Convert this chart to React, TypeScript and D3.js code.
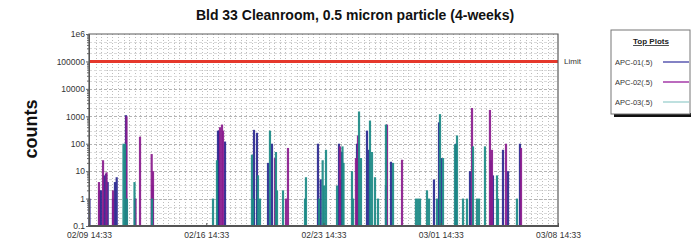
import React, { useEffect, useRef } from "react";
import * as d3 from "d3";

// hours after 02/09 14:33 and particle counts per series
const apc01Hours = [0.7, 15, 17.2, 21.5, 24.4, 26.8, 34.4, 37.2, 39.7, 53, 65.9, 91, 184.8, 186.3, 194.9, 236.4, 240.7, 256.5, 262.2, 328.1, 332, 358.2, 361, 362.5, 384, 398.3, 401.2, 425.5, 432.7, 494.3, 501.5, 504.4, 525.8, 545.9, 576, 578.8, 593.2, 600.4, 617.5];
const apc01Counts = [1, 2, 2, 7, 8, 4, 1, 4, 6, 1100, 1, 3, 300, 300, 120, 320, 250, 20, 100, 100, 5, 100, 5, 50, 100, 300, 60, 3, 22, 5, 600, 30, 100, 10, 25, 7, 60, 10, 100];

const apc02Hours = [14.3, 20.1, 25.1, 34.4, 53.7, 66.6, 73.1, 89.8, 91.7, 187.7, 190.6, 192, 266.5, 282.3, 285.1, 359.6, 382.5, 385.4, 427, 448.5, 548.8, 574.5, 577.4, 597.5, 619];
const apc02Counts = [4, 25, 9, 2, 1000, 1, 180, 42, 10, 400, 500, 300, 30, 1, 70, 80, 30, 200, 500, 26, 2000, 1700, 60, 100, 70];

const apc03Hours = [49.4, 51.6, 54.4, 65.2, 90.3, 177.7, 183.4, 233.5, 235, 242.1, 245, 259.3, 267.9, 269.4, 278, 309.5, 310.9, 329.6, 334.8, 336.7, 339.6, 355.4, 363.2, 364.7, 376.8, 378.3, 386.9, 389.7, 402.6, 405.5, 409.8, 414.1, 425.5, 435.6, 468.5, 471.4, 474.3, 484.3, 487.2, 498.6, 502.9, 507.2, 524.4, 527.3, 535.9, 541.6, 550.2, 555.9, 558.8, 567.4, 584.6, 586, 613.2];
const apc03Counts = [100, 100, 1, 4, 1, 1, 25, 40, 1, 7, 1, 300, 50, 2, 2, 1, 6, 1, 25, 3, 60, 3, 80, 20, 10, 1, 1500, 30, 700, 50, 6, 1, 500, 20, 1, 1, 1, 2, 1, 1, 1200, 30, 95, 200, 1, 1, 80, 1, 1, 80, 7, 1, 1];

const seriesNames = ["APC-01(.5)", "APC-02(.5)", "APC-03(.5)"];
const seriesColors = ["#2a2890", "#8a1c8e", "#1c8a86"];
const legendColors = ["#5a58b0", "#a43aa8", "#a9d6d4"];
const limitValue = 100000;
const yTicks = [1e6, 100000, 10000, 1000, 100, 10, 1, 0.1];
const yTickLabels = ["1e6", "100000", "10000", "1000", "100", "10", "1", "0.1"];

const start = Date.UTC(2008, 1, 9, 14, 33);

function App() {
  const ref = useRef(null);

  useEffect(() => {
    var margin = { top: 34, left: 89 },
      w = 469,
      h = 192;

    var root = d3.select(ref.current);
    root.selectAll("*").remove();

    var x = d3
      .scaleUtc()
      .domain([new Date(start), new Date(start + 28 * 864e5)])
      .range([0, w]);
    var y = d3.scaleLog().domain([0.1, 1e6]).range([h, 0]);

    var font = "Arial, 'Liberation Sans', sans-serif";

    root
      .append("text")
      .attr("x", 355)
      .attr("y", 20)
      .attr("text-anchor", "middle")
      .style("font-family", font)
      .style("font-weight", "bold")
      .style("font-size", "14px")
      .attr("fill", "#111")
      .text("Bld 33 Cleanroom, 0.5 micron particle (4-weeks)");

    root
      .append("text")
      .attr("transform", "translate(37,129) rotate(-90)")
      .attr("text-anchor", "middle")
      .style("font-family", font)
      .style("font-weight", "bold")
      .style("font-size", "18px")
      .attr("fill", "#111")
      .text("counts");

    var g = root.append("g").attr("transform", `translate(${margin.left},${margin.top})`);

    // grid
    var vGrid = d3.utcHour.every(8).range(new Date(start), new Date(start + 28 * 864e5));
    g.append("g")
      .selectAll("line")
      .data(vGrid.slice(1))
      .join("line")
      .attr("x1", (d) => Math.round(x(d)) + 0.5)
      .attr("x2", (d) => Math.round(x(d)) + 0.5)
      .attr("y1", 0)
      .attr("y2", h)
      .attr("stroke", "#bdbdbd")
      .attr("stroke-width", 1)
      .attr("stroke-dasharray", "1,2");

    var minor = [];
    for (var e = -1; e < 6; e++) {
      for (var k = 1; k < 10; k++) minor.push(k * Math.pow(10, e));
    }
    g.append("g")
      .selectAll("line")
      .data(minor.filter((v) => v > 0.1 && (yTicks.includes(v) || [2, 3, 5].includes(Math.round(v / Math.pow(10, Math.floor(Math.log10(v) + 1e-9)))))))
      .join("line")
      .attr("x1", 0)
      .attr("x2", w)
      .attr("y1", (d) => Math.round(y(d)) + 0.5)
      .attr("y2", (d) => Math.round(y(d)) + 0.5)
      .attr("stroke", (d) => (yTicks.includes(d) ? "#b4b4b4" : "#dadada"))
      .attr("stroke-width", 1)
      .attr("stroke-dasharray", "3,2");

    // limit line
    g.append("line")
      .attr("x1", 0)
      .attr("x2", w)
      .attr("y1", y(limitValue))
      .attr("y2", y(limitValue))
      .attr("stroke", "#e5372b")
      .attr("stroke-width", 3);

    root
      .append("text")
      .attr("x", 564)
      .attr("y", margin.top + y(limitValue) + 3)
      .style("font-family", font)
      .style("font-size", "8px")
      .attr("fill", "#333")
      .text("Limit");

    // bars
    var series = [
      { hours: apc01Hours, counts: apc01Counts },
      { hours: apc02Hours, counts: apc02Counts },
      { hours: apc03Hours, counts: apc03Counts },
    ];
    series.forEach((s, i) => {
      g.append("g")
        .selectAll("line")
        .data(s.hours.map((hr, j) => ({ t: new Date(start + hr * 36e5), v: s.counts[j] })))
        .join("line")
        .attr("x1", (d) => x(d.t))
        .attr("x2", (d) => x(d.t))
        .attr("y1", h)
        .attr("y2", (d) => y(d.v))
        .attr("stroke", seriesColors[i])
        .attr("stroke-width", 2.2)
        .attr("opacity", 0.92);
    });

    // frame
    g.append("path")
      .attr("d", `M0,${h}V0H${w}V${h}`)
      .attr("fill", "none")
      .attr("stroke", "#5a5a5a")
      .attr("stroke-width", 1.2);
    g.append("line")
      .attr("x1", -1)
      .attr("x2", w + 1)
      .attr("y1", h)
      .attr("y2", h)
      .attr("stroke", "#555")
      .attr("stroke-width", 2);

    // y axis
    var yAxis = g
      .append("g")
      .call(
        d3
          .axisLeft(y)
          .tickValues(minor.concat([1e6]))
          .tickSize(2)
          .tickFormat((d) => {
            var idx = yTicks.indexOf(d);
            return idx >= 0 ? yTickLabels[idx] : "";
          })
      );
    yAxis.select(".domain").attr("stroke", "#555");
    yAxis.selectAll(".tick line").attr("stroke", "#666").attr("x2", (d) => (yTicks.includes(d) ? -3 : -2));
    yAxis
      .selectAll("text")
      .attr("x", -4)
      .style("font-family", font)
      .style("font-size", "8.5px")
      .attr("fill", "#333");

    // x axis
    var xAxis = g
      .append("g")
      .attr("transform", `translate(0,${h})`)
      .call(
        d3
          .axisBottom(x)
          .tickValues(d3.range(5).map((i) => new Date(start + i * 7 * 864e5)))
          .tickSize(3)
          .tickFormat(d3.utcFormat("%m/%d %H:%M"))
      );
    xAxis.select(".domain").remove();
    xAxis.selectAll(".tick line").attr("stroke", "#555").attr("y1", -3).attr("y2", 1);
    xAxis
      .selectAll("text")
      .attr("y", 6)
      .style("font-family", font)
      .style("font-size", "8.5px")
      .attr("fill", "#333");

    // legend
    var lg = root.append("g").attr("transform", "translate(611,30)");
    lg.append("rect").attr("x", 3).attr("y", 83).attr("width", 80).attr("height", 4).attr("fill", "#111");
    lg.append("rect")
      .attr("x", 0)
      .attr("y", 0)
      .attr("width", 79)
      .attr("height", 84)
      .attr("fill", "#fff")
      .attr("stroke", "#777")
      .attr("stroke-width", 1);
    lg.append("text")
      .attr("x", 40)
      .attr("y", 14)
      .attr("text-anchor", "middle")
      .style("font-family", font)
      .style("font-weight", "bold")
      .style("font-size", "8px")
      .style("text-decoration", "underline")
      .attr("fill", "#222")
      .text("Top Plots");
    seriesNames.forEach((name, i) => {
      var yy = 32 + i * 20;
      lg.append("text")
        .attr("x", 4)
        .attr("y", yy + 3)
        .style("font-family", font)
        .style("font-size", "7.5px")
        .attr("fill", "#333")
        .text(name);
      lg.append("line")
        .attr("x1", 52)
        .attr("x2", 78)
        .attr("y1", yy)
        .attr("y2", yy)
        .attr("stroke", legendColors[i])
        .attr("stroke-width", 1.5);
    });
  }, []);

  return (
    <svg
      ref={ref}
      width={691}
      height={247}
      style={{ position: "absolute", left: 0, top: 0, background: "#fff" }}
    ></svg>
  );
}

export default App;
